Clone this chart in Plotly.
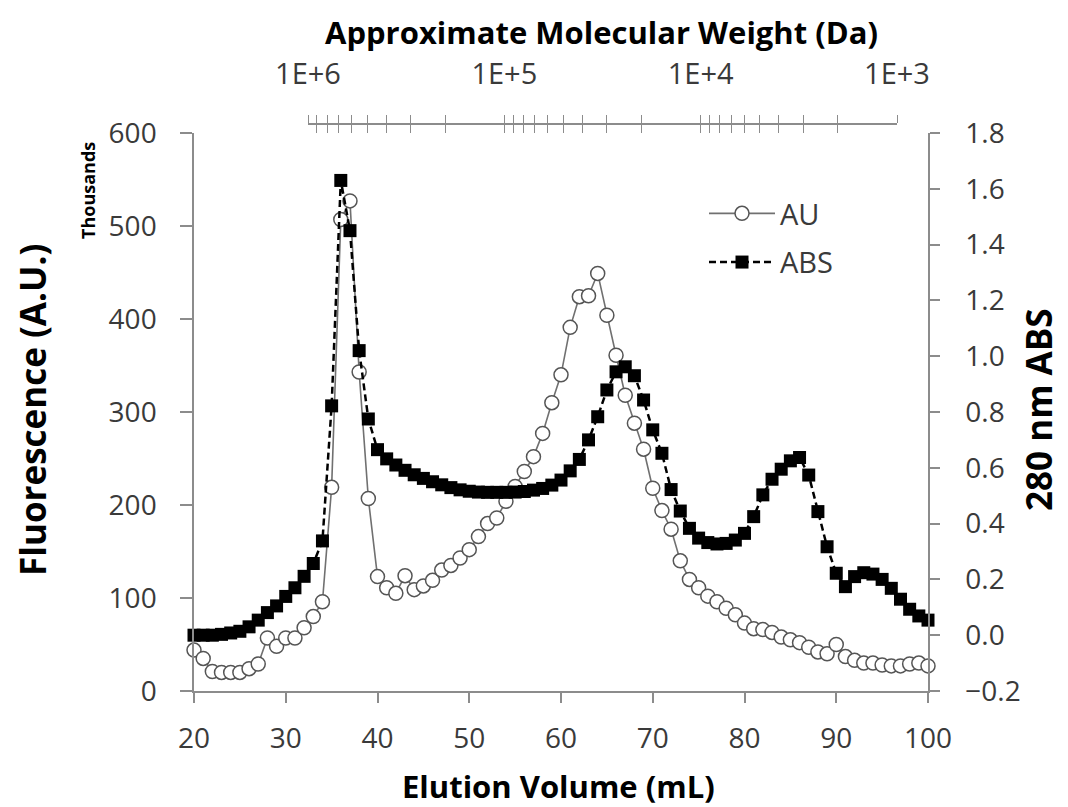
import plotly.graph_objects as go

# ---------------- data ----------------
elution_ml = list(range(20, 101))

fluorescence_thousands = [
    44, 35, 21, 20, 20, 20, 24, 29, 57, 48,
    57, 57, 68, 80, 96, 219, 507, 527, 343, 207,
    123, 111, 105, 124, 109, 113, 119, 130, 135, 143,
    152, 166, 180, 186, 204, 220, 236, 252, 277, 310,
    340, 391, 424, 425, 449, 404, 361, 318, 288, 260,
    218, 194, 174, 140, 120, 111, 102, 96, 89, 82,
    73, 67, 66, 63, 58, 55, 52, 47, 42, 40,
    50, 37, 33, 30, 30, 28, 27, 27, 29, 30,
    27,
]

abs_280 = [
    0.000, 0.000, 0.000, 0.003, 0.008, 0.014, 0.030, 0.054, 0.081, 0.105,
    0.139, 0.170, 0.211, 0.257, 0.338, 0.822, 1.630, 1.450, 1.020, 0.775,
    0.665, 0.632, 0.610, 0.591, 0.575, 0.562, 0.550, 0.539, 0.529, 0.521,
    0.516, 0.513, 0.512, 0.512, 0.512, 0.513, 0.515, 0.520, 0.526, 0.538,
    0.556, 0.589, 0.630, 0.700, 0.783, 0.879, 0.944, 0.962, 0.930, 0.843,
    0.736, 0.652, 0.522, 0.445, 0.383, 0.348, 0.332, 0.327, 0.329, 0.341,
    0.365, 0.425, 0.503, 0.559, 0.595, 0.625, 0.637, 0.574, 0.443, 0.317,
    0.222, 0.174, 0.210, 0.224, 0.219, 0.200, 0.168, 0.129, 0.093, 0.069,
    0.054,
]

mw_decades = [1e6, 1e5, 1e4, 1e3]
mw_decade_labels = ["1E+6", "1E+5", "1E+4", "1E+3"]
mw_minor_factors = [2, 3, 4, 5, 6, 7, 8, 9]

x_ticks = [20, 30, 40, 50, 60, 70, 80, 90, 100]
y_left_ticks = [0, 100, 200, 300, 400, 500, 600]
y_right_ticks = [-0.2, 0.0, 0.2, 0.4, 0.6, 0.8, 1.0, 1.2, 1.4, 1.6, 1.8]

# ---------------- build ----------------
mw_tickvals = []
mw_ticktext = []
for d, lab in zip(mw_decades, mw_decade_labels):
    mw_tickvals.append(d)
    mw_ticktext.append(lab)
    if d > mw_decades[-1]:
        for k in mw_minor_factors:
            mw_tickvals.append(k * d / 10)
            mw_ticktext.append("")

FONT = "Open Sans"
TICK_COLOR = "#3a3a3a"
AXIS_COLOR = "#8c8c8c"

W, H = 1068, 807
ML, MR, MT, MB = 194, 140, 124, 116
plot_w = W - ML - MR
paper_h = H - MT - MB
plot_top_px = 133
y_dom_top = (H - MB - plot_top_px) / paper_h


def px_x(px):
    return (px - ML) / plot_w


def px_y(py):
    return (H - MB - py) / paper_h


fig = go.Figure()

fig.add_trace(go.Scatter(
    x=elution_ml, y=fluorescence_thousands, name="AU",
    mode="lines+markers", legendgroup="au",
    line=dict(color="#707070", width=1.6),
    marker=dict(symbol="circle", size=14, color="white",
                line=dict(color="#555555", width=1.5)),
    xaxis="x", yaxis="y", cliponaxis=False,
))

fig.add_trace(go.Scatter(
    x=elution_ml, y=abs_280, name="ABS",
    mode="lines+markers", legendgroup="abs",
    line=dict(color="black", width=2.5, dash="7px,4px"),
    marker=dict(symbol="square", size=13, color="black"),
    xaxis="x", yaxis="y2", cliponaxis=False,
))

# invisible helpers so the molecular-weight axes get drawn
for ax in ["x2", "x3"]:
    fig.add_trace(go.Scatter(
        x=mw_decades, y=[None] * len(mw_decades), mode="markers",
        showlegend=False, hoverinfo="skip", xaxis=ax, yaxis="y",
    ))

tickfont = dict(family=FONT, size=28, color=TICK_COLOR)

fig.update_layout(
    width=W, height=H,
    margin=dict(l=ML, r=MR, t=MT, b=MB),
    paper_bgcolor="white", plot_bgcolor="rgba(0,0,0,0)",
    font=dict(family=FONT, color="black"),
    showlegend=True,
    legend=dict(
        x=px_x(704), y=px_y(188), xanchor="left", yanchor="top",
        font=dict(family=FONT, size=29, color=TICK_COLOR),
        bgcolor="rgba(0,0,0,0)", tracegroupgap=8,
        itemwidth=66,
    ),
    xaxis=dict(
        range=[20, 100], tickvals=x_ticks, showgrid=False, zeroline=False,
        showline=True, linecolor=AXIS_COLOR, linewidth=1.5,
        ticks="outside", ticklen=10, tickcolor=AXIS_COLOR, tickwidth=1.5,
        tickfont=tickfont, ticklabelstandoff=12,
        anchor="y",
    ),
    yaxis=dict(
        range=[0, 600], tickvals=y_left_ticks, showgrid=False, zeroline=False,
        showline=True, linecolor=AXIS_COLOR, linewidth=1.5,
        ticks="outside", ticklen=12, tickcolor=AXIS_COLOR, tickwidth=1.5,
        tickfont=tickfont, ticklabelstandoff=18,
        domain=[0, y_dom_top], anchor="x",
    ),
    yaxis2=dict(
        range=[-0.2, 1.8], tickvals=y_right_ticks, tickformat=".1f",
        showgrid=False, zeroline=False, overlaying="y", side="right",
        showline=True, linecolor=AXIS_COLOR, linewidth=1.5,
        ticks="outside", ticklen=10, tickcolor=AXIS_COLOR, tickwidth=1.5,
        tickfont=tickfont, ticklabelstandoff=20, anchor="x",
    ),
    xaxis2=dict(
        type="log", range=[6, 3], domain=[px_x(308), px_x(897)],
        anchor="free", position=1.0, side="top",
        tickvals=mw_tickvals, ticktext=mw_ticktext,
        showgrid=False, zeroline=False,
        showline=True, linecolor=AXIS_COLOR, linewidth=1.5,
        ticks="outside", ticklen=8, tickcolor=AXIS_COLOR, tickwidth=1.2,
        tickfont=dict(family=FONT, size=29, color=TICK_COLOR),
        ticklabelstandoff=20,
    ),
    xaxis3=dict(
        type="log", range=[6, 3], overlaying="x2",
        anchor="free", position=1.0, side="top",
        tickvals=mw_tickvals, showticklabels=False,
        showgrid=False, zeroline=False, showline=False,
        ticks="inside", ticklen=8, tickcolor=AXIS_COLOR, tickwidth=1.2,
    ),
)

h_title_font = dict(family=FONT, size=31, color="black", weight="bold")
v_title_font = dict(family=FONT, size=35, color="black", weight="bold")
annotations = [
    dict(text="Approximate Molecular Weight (Da)", x=px_x(601), y=px_y(32),
         showarrow=False, font=h_title_font, xanchor="center", yanchor="middle"),
    dict(text="Elution Volume (mL)", x=px_x(558), y=px_y(786),
         showarrow=False, font=h_title_font, xanchor="center", yanchor="middle"),
    dict(text="Fluorescence (A.U.)", x=px_x(32), y=px_y(410), textangle=-90,
         showarrow=False, font=v_title_font, xanchor="center", yanchor="middle"),
    dict(text="280 nm ABS", x=px_x(1038), y=px_y(410), textangle=-90,
         showarrow=False, font=v_title_font, xanchor="center", yanchor="middle"),
    dict(text="Thousands", x=px_x(88), y=px_y(191), textangle=-90,
         showarrow=False, font=dict(family=FONT, size=18, color="black", weight="bold"),
         xanchor="center", yanchor="middle"),
]
for a in annotations:
    a["xref"] = "paper"
    a["yref"] = "paper"
fig.update_layout(annotations=annotations)

fig.write_html("out.html")
